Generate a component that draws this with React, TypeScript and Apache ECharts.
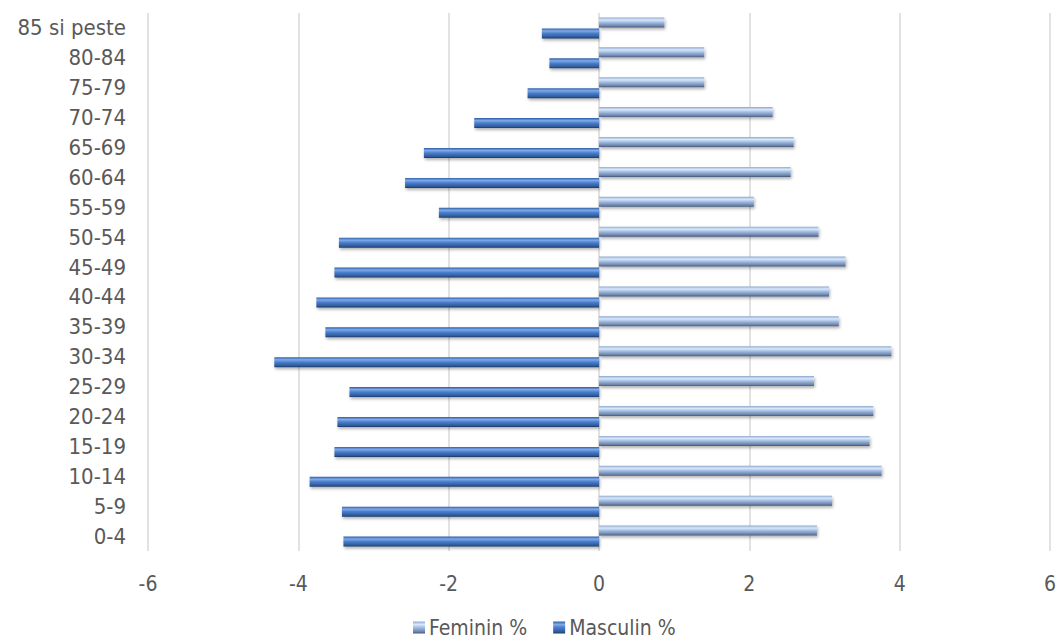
import React, { useEffect, useRef } from "react";
import * as echarts from "echarts";

// categories listed bottom to top
const categories = [
  "0-4", "5-9", "10-14", "15-19", "20-24", "25-29", "30-34", "35-39", "40-44",
  "45-49", "50-54", "55-59", "60-64", "65-69", "70-74", "75-79", "80-84", "85 si peste",
];
const femininValues = [2.9, 3.1, 3.76, 3.6, 3.65, 2.86, 3.89, 3.19, 3.06, 3.28, 2.92, 2.06, 2.55, 2.59, 2.31, 1.4, 1.4, 0.87];
const masculinValues = [-3.4, -3.42, -3.85, -3.52, -3.48, -3.32, -4.32, -3.64, -3.76, -3.52, -3.46, -2.13, -2.58, -2.33, -1.66, -0.95, -0.66, -0.76];
const xTicks = { min: -6, max: 6, interval: 2 };

const FONT = "'DejaVu Sans Condensed', 'DejaVu Sans', sans-serif";

export default function App() {
  const ref = useRef<HTMLDivElement>(null);
  useEffect(() => {
    document.body.style.margin = "0";
    if (!ref.current) return;
    const chart = echarts.init(ref.current, undefined, { renderer: "svg" });
    const femGrad = new echarts.graphic.LinearGradient(0, 0, 0, 1, [
      { offset: 0, color: "#8fa9cf" },
      { offset: 0.25, color: "#d8e8fc" },
      { offset: 0.5, color: "#a3bde2" },
      { offset: 0.85, color: "#6d84aa" },
      { offset: 1, color: "#44567a" },
    ]);
    const masGrad = new echarts.graphic.LinearGradient(0, 0, 0, 1, [
      { offset: 0, color: "#2f5fa6" },
      { offset: 0.25, color: "#7eaaea" },
      { offset: 0.5, color: "#4a7ecb" },
      { offset: 0.85, color: "#2f5a9a" },
      { offset: 1, color: "#1b3763" },
    ]);
    chart.setOption({
      animation: false,
      textStyle: { fontFamily: FONT },
      grid: { left: 148, right: 6, top: 13, bottom: 93, containLabel: false },
      legend: {
        top: 612,
        left: 408,
        itemWidth: 12,
        itemHeight: 12,
        itemGap: 26,
        icon: "rect",
        data: ["Feminin %", "Masculin %"],
        textStyle: { color: "#595959", fontSize: 21, fontFamily: FONT, padding: [0, 0, 0, -1] },
      },
      xAxis: {
        type: "value",
        min: xTicks.min,
        max: xTicks.max,
        interval: xTicks.interval,
        axisLine: { show: false },
        axisTick: { show: false },
        splitLine: { show: true, lineStyle: { color: "#d9d9d9", width: 1.5 } },
        axisLabel: { color: "#595959", fontSize: 21, margin: 22, fontFamily: FONT },
      },
      yAxis: {
        type: "category",
        data: categories,
        axisLine: { show: false },
        axisTick: { show: false },
        axisLabel: { color: "#595959", fontSize: 22, margin: 22, interval: 0, fontFamily: FONT },
      },
      series: [
        {
          name: "Feminin %",
          type: "bar",
          data: femininValues,
          barWidth: 10,
          barGap: "10%",
          itemStyle: {
            color: femGrad,
            shadowColor: "rgba(0,0,0,0.3)",
            shadowBlur: 3,
            shadowOffsetY: 2,
            shadowOffsetX: 1,
          },
        },
        {
          name: "Masculin %",
          type: "bar",
          data: masculinValues,
          barWidth: 10,
          barGap: "10%",
          itemStyle: {
            color: masGrad,
            shadowColor: "rgba(0,0,0,0.3)",
            shadowBlur: 3,
            shadowOffsetY: 2,
            shadowOffsetX: 1,
          },
        },
      ],
    });
    return () => chart.dispose();
  }, []);
  return <div ref={ref} style={{ width: 1059, height: 644 }} />;
}
